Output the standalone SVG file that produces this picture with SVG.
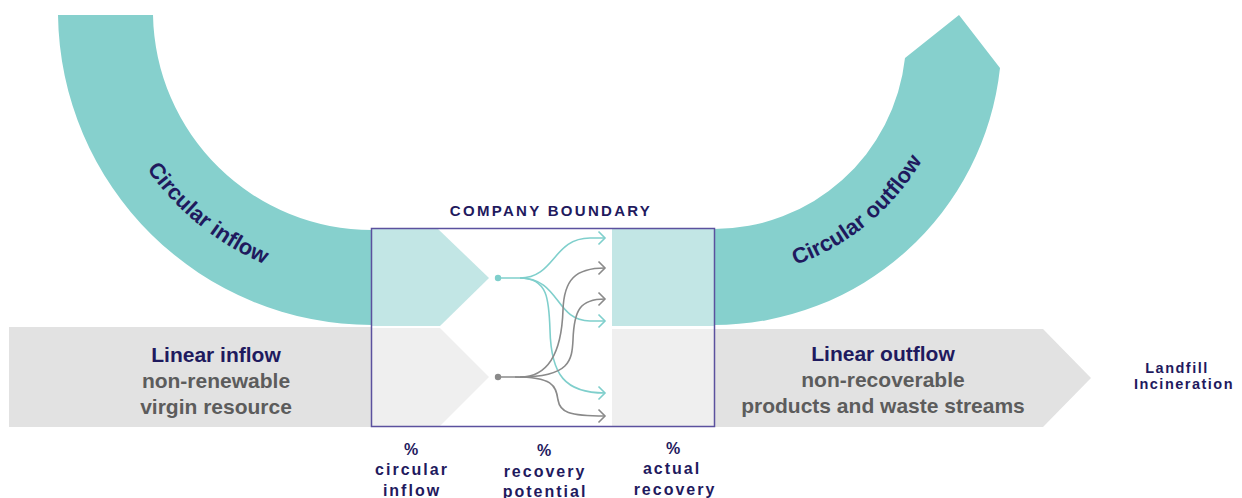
<svg xmlns="http://www.w3.org/2000/svg" width="1242" height="498" viewBox="0 0 1242 498">
  <style>
    text { font-family: "Liberation Sans", Arial, sans-serif; font-weight: bold; }
    .teal { fill: #86d0cd; }
    .tealLight { fill: #c2e6e5; }
    .gray { fill: #e2e2e2; }
    .grayLight { fill: #efefef; }
    .navy { fill: #1f1a5e; }
    .sub { fill: #5c5c5c; }
    .big { font-size: 21px; text-anchor: middle; }
    .metric { font-size: 16px; letter-spacing: 2px; text-anchor: middle; fill: #1f1a5e; }
    .flowT { fill: none; stroke: #7fcfcc; stroke-width: 1.6; }
    .flowG { fill: none; stroke: #8a8a8a; stroke-width: 1.6; }
  </style>
  <defs>
    <marker id="arrT" viewBox="-8 -8 10 16" markerWidth="10" markerHeight="16" refX="0" refY="0" orient="auto" markerUnits="userSpaceOnUse">
      <path d="M-6.5,-6.5 L0,0 L-6.5,6.5" fill="none" stroke="#7fcfcc" stroke-width="1.6"/>
    </marker>
    <marker id="arrG" viewBox="-8 -8 10 16" markerWidth="10" markerHeight="16" refX="0" refY="0" orient="auto" markerUnits="userSpaceOnUse">
      <path d="M-6.5,-6.5 L0,0 L-6.5,6.5" fill="none" stroke="#8a8a8a" stroke-width="1.6"/>
    </marker>
    <path id="arcIn" d="M 103 68.2 A 275 275 0 0 0 372 286"/>
    <path id="arcOut" d="M 692.9 278.1 A 242 242 0 0 0 954.7 62.3"/>
  </defs>

  <g id="circular-inflow">
    <path class="teal" d="M 58 15 L 153 15 A 219 219 0 0 0 372 230 L 372 325 A 314 314 0 0 1 58 15 Z"/>
    <text class="navy" font-size="22"><textPath href="#arcIn" startOffset="50%" text-anchor="middle">Circular inflow</textPath></text>
  </g>

  <g id="circular-outflow">
    <path class="teal" d="M 714 229 A 192 192 0 0 0 905 58 L 959 15 L 1000 68 A 288 288 0 0 1 714 325 Z"/>
    <text class="navy" font-size="22"><textPath href="#arcOut" startOffset="50%" text-anchor="middle">Circular outflow</textPath></text>
  </g>

  <g id="linear-inflow">
    <rect class="gray" x="9" y="327" width="363" height="100"/>
    <text class="big navy" x="216" y="362">Linear inflow</text>
    <text class="big sub" x="216" y="388">non-renewable</text>
    <text class="big sub" x="216" y="414">virgin resource</text>
  </g>

  <g id="linear-outflow">
    <path class="gray" d="M 714 329 L 1043 329 L 1091 378 L 1043 427 L 714 427 Z"/>
    <text class="big navy" x="883" y="361">Linear outflow</text>
    <text class="big sub" x="883" y="387">non-recoverable</text>
    <text class="big sub" x="883" y="413">products and waste streams</text>
  </g>

  <g id="company-boundary">
    <path class="tealLight" d="M 372 229 L 438 229 L 489 278 L 440 326 L 372 326 Z"/>
    <path class="grayLight" d="M 372 328 L 440 328 L 489 377 L 440 426 L 372 426 Z"/>
    <rect class="tealLight" x="612" y="229" width="102" height="97"/>
    <rect class="grayLight" x="612" y="329" width="102" height="97"/>
    <rect x="371.5" y="228.5" width="343" height="198" fill="none" stroke="#5b519e" stroke-width="1.5"/>
    <text class="navy" x="551" y="216" font-size="15" letter-spacing="2.3" text-anchor="middle">COMPANY BOUNDARY</text>
  </g>

  <g id="landfill">
    <text class="navy" x="1177" y="373" font-size="14.5" letter-spacing="1.5" text-anchor="middle">Landfill</text>
    <text class="navy" x="1184" y="389" font-size="14.5" letter-spacing="1.5" text-anchor="middle">Incineration</text>
  </g>

  <g id="metric-circular-inflow">
    <text class="metric" x="412" y="455">%</text>
    <text class="metric" x="412" y="475">circular</text>
    <text class="metric" x="412" y="496">inflow</text>
  </g>
  <g id="metric-recovery-potential">
    <text class="metric" x="545" y="456">%</text>
    <text class="metric" x="545" y="477">recovery</text>
    <text class="metric" x="545" y="497">potential</text>
  </g>
  <g id="metric-actual-recovery">
    <text class="metric" x="674" y="454">%</text>
    <text class="metric" x="672" y="474">actual</text>
    <text class="metric" x="675" y="495">recovery</text>
  </g>

  <g id="connectors">
    <path class="flowT" d="M 498 278 H 520 C 555 278 553 238 590 238 H 605" marker-end="url(#arrT)"/>
    <path class="flowT" d="M 520 278 C 560 278 555 321 590 321 H 605" marker-end="url(#arrT)"/>
    <path class="flowT" d="M 520 278 C 548 278 549 300 550 330 C 551 375 565 393 605 393" marker-end="url(#arrT)"/>
    <path class="flowG" d="M 498 377 H 520 C 555 377 562 340 563 310 C 564 280 575 268 605 268" marker-end="url(#arrG)"/>
    <path class="flowG" d="M 520 377 C 570 377 572 360 573 340 C 574 310 580 299 605 299" marker-end="url(#arrG)"/>
    <path class="flowG" d="M 515 377 C 552 377 556 385 558 400 C 560 412 568 416 605 416" marker-end="url(#arrG)"/>
    <circle cx="498" cy="278" r="3.2" fill="#7fcfcc"/>
    <circle cx="498" cy="377" r="3.2" fill="#8a8a8a"/>
  </g>
</svg>
